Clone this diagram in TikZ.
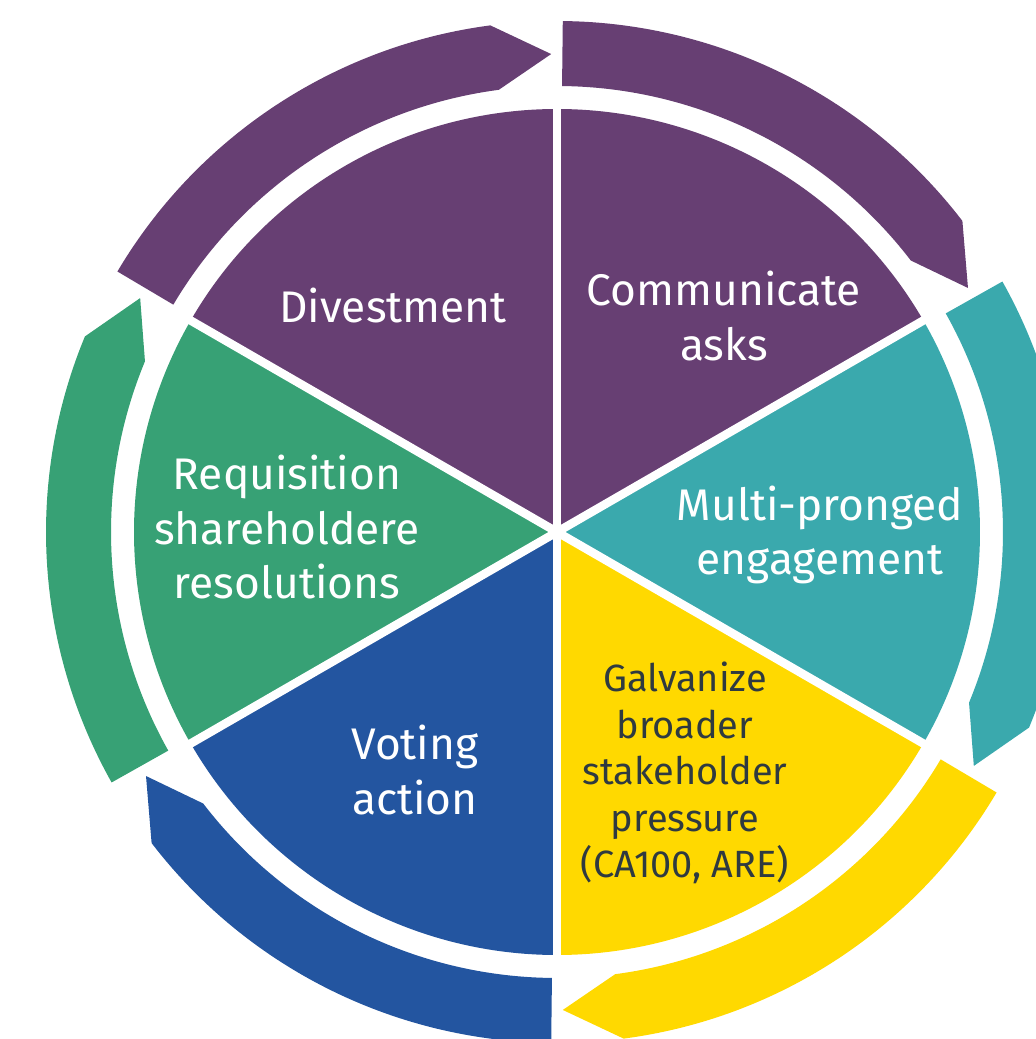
\documentclass[tikz,border=0pt]{standalone}
\usepackage{fontspec}
\setmainfont{Fira Sans}
\usepackage{tikz}
\usetikzlibrary{positioning}
\definecolor{CycPurple}{HTML}{673F73}
\definecolor{CycTeal}{HTML}{3AA9AD}
\definecolor{CycGold}{HTML}{FFD900}
\definecolor{CycBlue}{HTML}{2355A0}
\definecolor{CycGreen}{HTML}{37A175}
\definecolor{CycInk}{HTML}{2F3A40}
\tikzset{
  cyclabel/.style={font=\fontsize{12.6}{15.6}\selectfont, text=white, align=center},
  cycsmall/.style={font=\fontsize{10.8}{13.2}\selectfont, text=CycInk, align=center},
  cycgap/.style={draw=white, line width=0.085cm}
}
% inner wedge and outer arrow segment starting at angle #1
\newcommand{\cycwedge}[2]{%
  \fill[#2] (0,0) -- (#1:4.23) arc[start angle=#1, end angle=#1-60, radius=4.23] -- cycle;
  \fill[#2] (#1-0.65:5.11) arc[start angle=#1-0.65, end angle=#1-52.5, radius=5.11]
    -- (#1-59.3:4.78) -- (#1-52.5:4.46)
    arc[start angle=#1-52.5, end angle=#1-0.65, radius=4.46] -- cycle;
}

\begin{document}
\begin{tikzpicture}
\useasboundingbox (-5.57,-5.07) rectangle (4.78,5.32);
\foreach \b/\col in {90/CycPurple,30/CycTeal,-30/CycGold,-90/CycBlue,-150/CycGreen,150/CycPurple} {
  \cycwedge{\b}{\col}
}
\foreach \b in {90,30,-30,-90,-150,150} {
  \draw[cycgap] (0,0) -- (\b:4.3);
}
\node[cyclabel] (communicate) at (1.67,2.16) {Communicate\\asks};
\node[cyclabel] (divest) at (-1.64,2.27) {Divestment};
\node[cyclabel] (engage) at (2.63,-0.03) {Multi-pronged\\engagement};
\node[cyclabel] (requisition) at (-2.70,0.05) {Requisition\\shareholdere\\resolutions};
\node[cyclabel] (voting) at (-1.42,-2.38) {Voting\\action};
\node[cycsmall] (galvanize) at (1.28,-2.41) {Galvanize\\broader\\stakeholder\\pressure\\(CA100, ARE)};
\end{tikzpicture}
\end{document}
